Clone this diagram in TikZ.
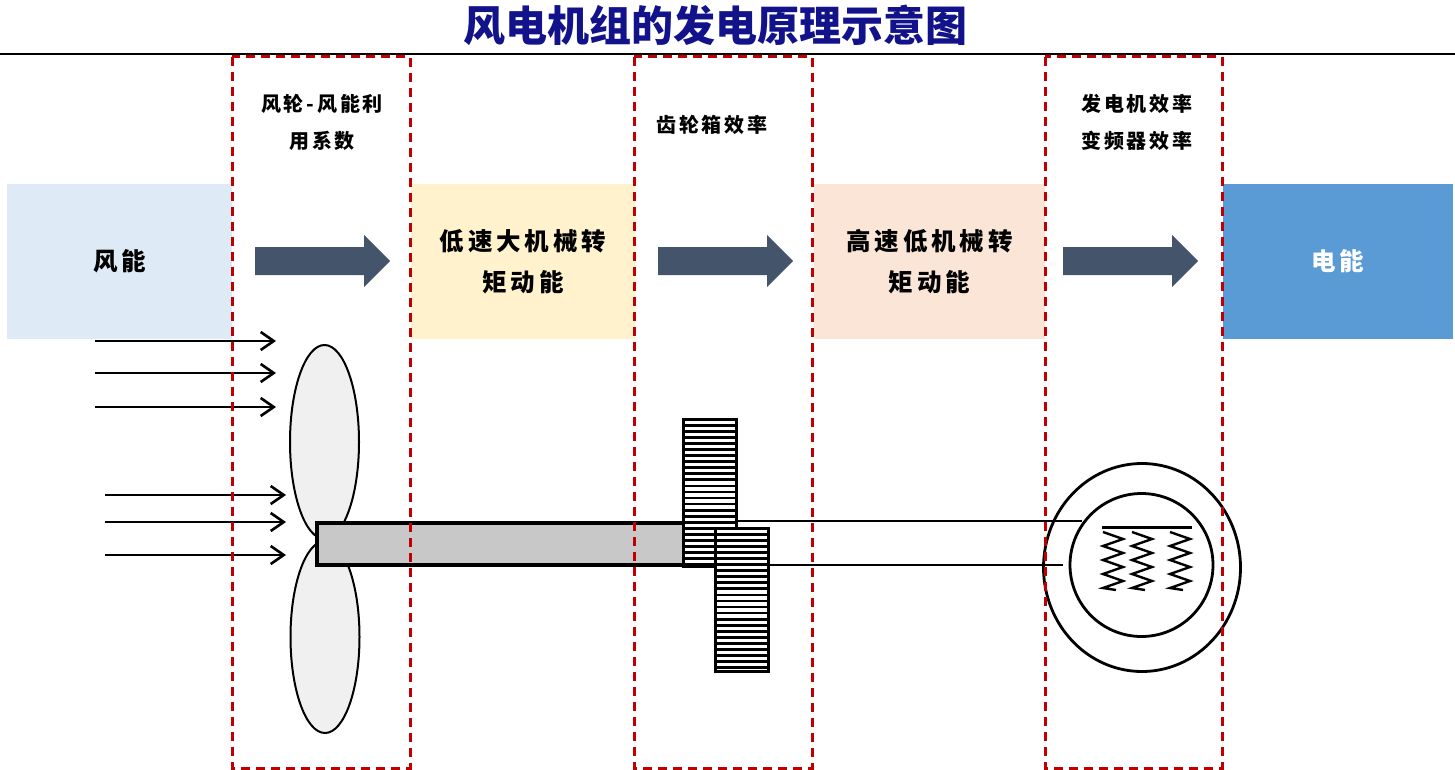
\documentclass[tikz,border=0pt]{standalone}
\usepackage{fontspec}
\setmainfont{Noto Sans CJK SC}
\newfontfamily\cjk{Noto Sans CJK SC}
\usetikzlibrary{arrows.meta}
\definecolor{redc}{HTML}{C00000}
\definecolor{navyc}{HTML}{12128A}
\definecolor{arrowc}{HTML}{44546A}
\definecolor{bluelt}{HTML}{DEEAF6}
\definecolor{yellowlt}{HTML}{FFF2CC}
\definecolor{peachlt}{HTML}{FBE5D6}
\definecolor{bluedk}{HTML}{5B9BD5}
\definecolor{bladec}{HTML}{F0F0F0}
\definecolor{shaftc}{HTML}{C8C8C8}
\tikzset{
  energybox/.style={draw=none, minimum width=225, minimum height=155, inner sep=0pt,
    align=center, font=\cjk\bfseries\fontsize{24.5}{41}\selectfont\addfontfeatures{LetterSpace=16}},
  labeltext/.style={align=center, inner sep=0pt,
    font=\cjk\bfseries\fontsize{20}{37}\selectfont\addfontfeatures{LetterSpace=14}},
  redbox/.style={draw=redc, line width=3pt, dash pattern=on 9pt off 6pt},
  windarrow/.style={line width=2.8pt, -{Straight Barb[length=13pt,width=18pt,line width=2.6pt]}},
  blade/.style={draw=black, line width=2pt, fill=bladec},
  thinline/.style={line width=1.1pt},
  blockarrow/.pic={\fill[arrowc] (0,-14) -- (109,-14) -- (109,-26) -- (135,0) -- (109,26) -- (109,14) -- (0,14) -- cycle;}
}
\begin{document}
\begin{tikzpicture}[x=1pt,y=-1pt]
\useasboundingbox (0,0) rectangle (1455,770);
\fill[white] (0,0) rectangle (1455,770);

% title
\node[font=\cjk\bfseries\fontsize{42}{46}\selectfont, text=navyc, inner sep=0pt] (title) at (715,25) {风电机组的发电原理示意图};
\draw[line width=2.2pt] (0,54) -- (1455,54);

% energy boxes
\node[energybox, fill=bluelt] (wind) at (119.5,261.5) {风能};
\node[energybox, fill=yellowlt, minimum width=224] (low) at (523,261.5) {低速大机械转\\矩动能};
\node[energybox, fill=peachlt, minimum width=231] (high) at (929.5,261.5) {高速低机械转\\矩动能};
\node[energybox, fill=bluedk, minimum width=230, text=white] (elec) at (1337.5,261.5) {电能};

% block arrows
\pic at (255,261) {blockarrow};
\pic at (658,261) {blockarrow};
\pic at (1063,261) {blockarrow};

% labels
\node[labeltext] (l1) at (322,122) {风轮-风能利\\用系数};
\node[labeltext] (l2) at (712,125) {齿轮箱效率};
\node[labeltext] (l3) at (1137,122) {发电机效率\\变频器效率};

% wind arrows
\foreach \yy/\xa/\xb in {341/95/276, 373/95/276, 407/95/276, 495/105/286, 522/105/286, 555/105/286}
  \draw[windarrow] (\xa,\yy) -- (\xb,\yy);

% blades
\draw[blade] (325,637) ellipse [x radius=34.5, y radius=96];
\draw[blade] (324.5,442) ellipse [x radius=34.5, y radius=97];

% shaft
\draw[line width=3.2pt, fill=shaftc] (317,523) rectangle (690,565);

% gear 1
\fill[black] (682,418) rectangle (738,568);
\fill[white] (685,421) rectangle (735,565);
\foreach \i in {0,...,23} \fill[black] (685,424+\i*6.05) rectangle (735,426.8+\i*6.05);
% gear 2
\fill[black] (714,527) rectangle (770,673);
\fill[white] (717,530) rectangle (767,670);
\foreach \i in {0,...,22} \fill[black] (717,533+\i*6.05) rectangle (767,535.8+\i*6.05);

% generator
\draw[line width=2.8pt] (1142,567.5) ellipse [x radius=98.5, y radius=104];
\draw[line width=2.8pt] (1141.5,565) ellipse [x radius=71.5, y radius=71.5];
\draw[line width=3pt] (1102,527) -- (1192,527);
\foreach \cx in {1113,1142,1180}
  \draw[line width=2.4pt, line join=miter] (\cx-10,532) -- (\cx+10,539) -- (\cx-10,546) -- (\cx+10,553) -- (\cx-10,560) -- (\cx+10,567) -- (\cx-10,574) -- (\cx+10,581) -- (\cx-10,588) -- (\cx+3,590);

% connecting lines
\draw[thinline] (738,521) -- (1082,521);
\draw[thinline] (770,565) -- (1063,565);

% red dashed boxes
\draw[redbox] (232,57) rectangle (410,768);
\draw[redbox] (634,57) rectangle (812,768);
\draw[redbox] (1045,57) rectangle (1222,768);
\end{tikzpicture}
\end{document}
